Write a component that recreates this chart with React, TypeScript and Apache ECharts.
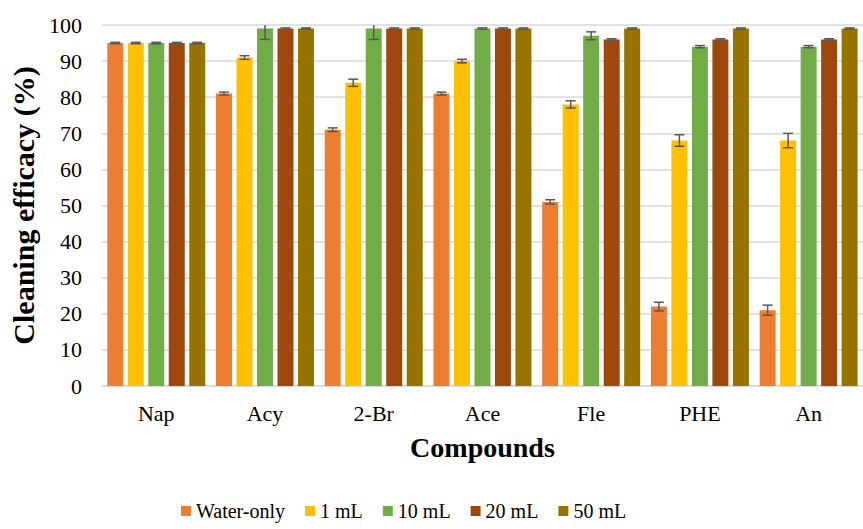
import React, { useEffect, useRef } from "react";
import * as echarts from "echarts";

const categories = ["Nap", "Acy", "2-Br", "Ace", "Fle", "PHE", "An"];
const seriesNames = ["Water-only", "1 mL", "10 mL", "20 mL", "50 mL"];
const waterOnly = [95, 81, 71, 81, 51, 22, 21];
const mL1 = [95, 91, 84, 90, 78, 68, 68];
const mL10 = [95, 99, 99, 99, 97, 94, 94];
const mL20 = [95, 99, 99, 99, 96, 96, 96];
const mL50 = [95, 99, 99, 99, 99, 99, 99];
const waterOnlyErr = [0.2, 0.4, 0.5, 0.4, 0.6, 1.2, 1.4];
const mL1Err = [0.2, 0.5, 1.0, 0.5, 1.0, 1.6, 2.0];
const mL10Err = [0.2, 3.0, 3.0, 0.2, 1.1, 0.3, 0.3];
const mL20Err = [0.2, 0.2, 0.2, 0.2, 0.2, 0.2, 0.2];
const mL50Err = [0.2, 0.2, 0.2, 0.2, 0.2, 0.2, 0.2];
const yTicks = { min: 0, max: 100, interval: 10 };

const colors = ["#ED7D31", "#FFC000", "#70AD47", "#9E480E", "#997300"];
const values = [waterOnly, mL1, mL10, mL20, mL50];
const errors = [waterOnlyErr, mL1Err, mL10Err, mL20Err, mL50Err];

const BAR_W = 16;
const STEP = 20.5;
const FONT = "'Liberation Serif', 'Times New Roman', serif";

export default function App() {
  const ref = useRef<HTMLDivElement>(null);
  useEffect(() => {
    document.body.style.margin = "0";
    const chart = echarts.init(ref.current!, null, { renderer: "svg" });
    const barSeries = seriesNames.map((name, i) => ({
      name,
      type: "bar",
      data: values[i],
      barWidth: BAR_W,
      barGap: ((STEP - BAR_W) / BAR_W * 100).toFixed(1) + "%",
      itemStyle: { color: colors[i] },
    }));
    const errSeries = seriesNames.map((name, i) => ({
      name: name + " err",
      type: "custom",
      clip: true,
      z: 10,
      data: values[i].map((v, k) => [k, v, errors[i][k]]),
      renderItem: (params: any, api: any) => {
        const idx = api.value(0);
        const v = api.value(1);
        const e = api.value(2);
        const off = (i - 2) * STEP;
        const top = api.coord([idx, v + e]);
        const bot = api.coord([idx, v - e]);
        const x = top[0] + off;
        const cap = 5;
        const style = { stroke: "#595959", lineWidth: 1.5 };
        return {
          type: "group",
          children: [
            { type: "line", shape: { x1: x, y1: top[1], x2: x, y2: bot[1] }, style },
            { type: "line", shape: { x1: x - cap, y1: top[1], x2: x + cap, y2: top[1] }, style },
            { type: "line", shape: { x1: x - cap, y1: bot[1], x2: x + cap, y2: bot[1] }, style },
          ],
        };
      },
    }));
    chart.setOption({
      animation: false,
      textStyle: { fontFamily: FONT },
      grid: { left: 101, top: 25, width: 770, height: 361 },
      legend: {
        data: seriesNames,
        left: 181,
        top: 500,
        padding: 0,
        itemWidth: 10,
        itemHeight: 10,
        itemGap: 20,
        icon: "rect",
        textStyle: { fontFamily: FONT, fontSize: 20, color: "#000", lineHeight: 22 },
      },
      xAxis: {
        type: "category",
        data: categories,
        axisTick: { show: false },
        axisLine: { lineStyle: { color: "#d9d9d9", width: 1.5 } },
        axisLabel: { fontFamily: FONT, fontSize: 22, color: "#000", margin: 16 },
        name: "Compounds",
        nameLocation: "middle",
        nameGap: 47,
        nameTextStyle: { fontFamily: FONT, fontSize: 28, fontWeight: "bold", color: "#000" },
      },
      yAxis: {
        type: "value",
        min: yTicks.min,
        max: yTicks.max,
        interval: yTicks.interval,
        axisLine: { show: false },
        axisTick: { show: false },
        splitLine: { lineStyle: { color: "#d9d9d9", width: 1.5 } },
        axisLabel: { fontFamily: FONT, fontSize: 22, color: "#000", margin: 20 },
        name: "Cleaning efficacy (%)",
        nameLocation: "middle",
        nameGap: 60,
        nameTextStyle: { fontFamily: FONT, fontSize: 30, fontWeight: "bold", color: "#000" },
      },
      series: [...barSeries, ...errSeries],
    });
    return () => chart.dispose();
  }, []);
  return <div ref={ref} style={{ width: 863, height: 529 }} />;
}
